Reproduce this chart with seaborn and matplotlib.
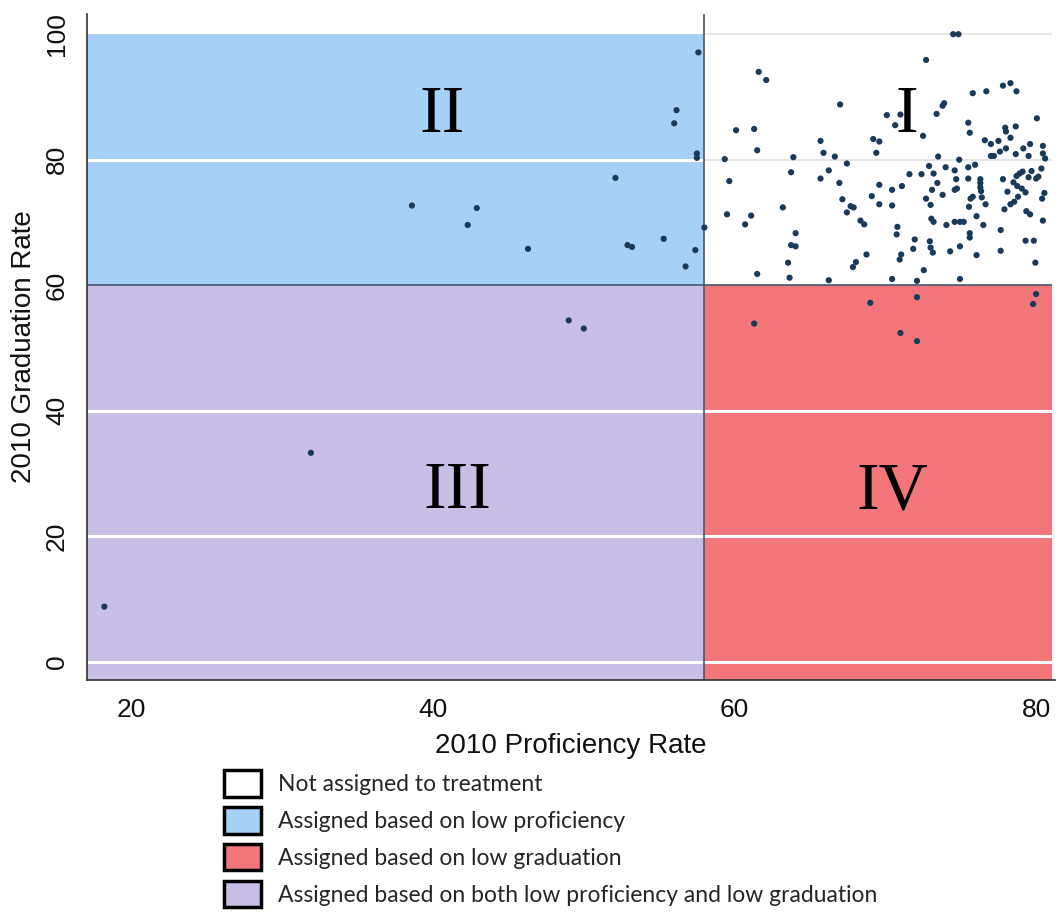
import numpy as np
import pandas as pd
import matplotlib
matplotlib.use("Agg")
import matplotlib.pyplot as plt
from matplotlib.patches import Rectangle, Patch
import seaborn as sns

# ---- data (2010 proficiency rate, 2010 graduation rate) ----
q2_prof = [57.6, 56.15, 56.0, 57.5, 57.5, 52.1, 38.6, 42.9, 42.3, 58.0, 46.3, 52.9, 53.2, 55.3, 57.4, 56.75]
q2_grad = [97.1, 87.9, 85.8, 81.0, 80.3, 77.1, 72.7, 72.3, 69.6, 69.2, 65.8, 66.4, 66.1, 67.4, 65.6, 63.0]

q3_prof = [49.0, 50.0, 31.9, 18.2]
q3_grad = [54.4, 53.1, 33.3, 8.8]

q4_prof = [80.0, 79.8, 69.0, 72.1, 61.3, 71.0, 72.1]
q4_grad = [58.6, 57.0, 57.2, 58.1, 53.9, 52.4, 51.1]

q1_prof = [61.6, 62.1, 67.0, 60.1, 61.3, 61.5, 65.7, 65.9, 66.65, 63.9, 59.35, 69.2, 69.6, 69.4,
           74.5, 74.85, 72.7, 70.1, 71.0, 70.65, 72.5, 73.4, 73.8, 73.9, 75.8, 76.7, 77.8, 78.3, 78.7,
           75.5, 75.6, 77.95, 78.0, 78.65, 80.05, 78.3, 76.6, 77.0, 77.5, 78.0, 77.6, 78.65, 79.15, 79.6,
           80.45, 80.45, 80.6, 73.5, 77.0, 77.2, 74.9, 79.5,
           71.6, 72.4, 72.9, 73.2, 74.0, 74.6, 75.5, 75.95, 73.45, 74.7, 75.5, 76.3, 76.3, 76.3, 76.35,
           73.1, 73.8, 74.6, 74.75, 72.7, 73.0, 75.65, 75.8, 75.55, 76.4, 76.65, 77.8, 78.7, 78.9, 79.1,
           79.5, 79.7, 80.0, 80.15, 80.35, 78.5, 78.75, 79.05, 78.1, 78.8, 79.3, 80.55, 80.4, 78.55, 78.3,
           77.9, 79.35, 79.6, 80.45, 70.45, 71.1, 70.45, 73.05, 73.2, 74.05, 74.6, 74.95, 75.2, 76.05,
           76.5, 77.65, 75.6, 75.6, 70.8, 70.75, 71.95, 72.95, 73.0, 71.85, 73.15, 74.3, 74.95, 76.05,
           77.65, 79.3, 79.85, 79.95, 71.05, 70.95, 72.55, 70.45, 72.1, 74.95,
           67.45, 63.75, 66.25, 65.7, 66.95, 59.65, 69.6, 69.1, 69.6, 67.15, 67.7, 67.9, 67.45, 63.2,
           59.5, 61.1, 60.7, 68.35, 68.6, 64.05, 63.75, 64.05, 68.75, 68.05, 67.85, 63.55, 61.5, 63.65, 66.25]
q1_grad = [94.0, 92.7, 88.8, 84.7, 84.9, 81.5, 83.0, 81.1, 80.5, 80.4, 80.1, 83.3, 82.9, 81.1,
           100.0, 100.0, 95.9, 87.1, 87.2, 85.5, 83.8, 87.3, 88.6, 89.0, 90.6, 90.9, 91.8, 92.2, 90.9,
           85.9, 84.3, 85.1, 84.5, 85.3, 86.6, 83.5, 83.1, 82.5, 83.0, 81.8, 81.3, 80.9, 81.8, 82.5,
           82.2, 81.0, 80.2, 80.5, 80.6, 80.6, 80.0, 80.6,
           77.7, 77.7, 79.0, 77.8, 78.8, 78.3, 78.8, 79.2, 76.3, 76.9, 77.0, 76.9, 76.3, 75.6, 75.0,
           75.2, 74.4, 75.2, 75.4, 73.8, 72.8, 73.8, 74.1, 72.5, 74.0, 72.9, 76.9, 77.4, 77.8, 78.1,
           77.2, 78.2, 77.0, 77.3, 78.6, 76.4, 75.8, 75.4, 74.9, 74.1, 74.8, 74.7, 73.8, 73.3, 72.9,
           72.1, 71.8, 71.3, 70.3, 75.2, 75.8, 72.7, 70.6, 70.1, 69.6, 70.1, 70.1, 70.1, 71.0,
           69.6, 68.8, 68.3, 67.6, 69.3, 68.1, 67.3, 67.0, 66.0, 65.8, 65.2, 65.4, 66.2, 64.8,
           65.5, 67.1, 67.1, 63.6, 64.9, 64.1, 62.4, 61.0, 60.7, 61.0,
           79.4, 78.0, 78.3, 77.0, 76.3, 76.6, 76.0, 74.2, 72.9, 73.7, 72.6, 72.4, 71.6, 72.4,
           71.3, 71.1, 69.7, 70.3, 69.7, 68.3, 66.4, 66.2, 64.9, 63.7, 62.9, 63.6, 61.8, 61.2, 60.8]

prof_cut = 58.0
grad_cut = 60.0
x_ticks = [20, 40, 60, 80]
y_ticks = [0, 20, 40, 60, 80, 100]
quadrant_labels = ["I", "II", "III", "IV"]
legend_labels = ["Not assigned to treatment",
                 "Assigned based on low proficiency",
                 "Assigned based on low graduation",
                 "Assigned based on both low proficiency and low graduation"]

df = pd.DataFrame({
    "prof": q1_prof + q2_prof + q3_prof + q4_prof,
    "grad": q1_grad + q2_grad + q3_grad + q4_grad,
})

# ---- style ----
sns.set_style("white")
plt.rcParams["font.family"] = ["Liberation Sans", "DejaVu Sans"]

c_white = "#FFFFFF"
c_blue = "#A5D0F8"
c_red = "#F3767B"
c_purple = "#C9BFE6"
c_line = "#46586E"
c_dot = "#1B3A5A"

fig = plt.figure(figsize=(10.61, 9.16), dpi=100)
ax = fig.add_axes([0.082, 0.2576, 0.9123, 0.727])

xmin, xmax = 17.05, 81.25
ymin, ymax = -2.9, 103.2
xr = 81.05

ax.set_xlim(xmin, xmax)
ax.set_ylim(ymin, ymax)

# quadrant backgrounds
ax.add_patch(Rectangle((xmin, grad_cut), prof_cut - xmin, 100 - grad_cut, facecolor=c_blue, edgecolor="none", zorder=0.5))
ax.add_patch(Rectangle((xmin, ymin), prof_cut - xmin, grad_cut - ymin, facecolor=c_purple, edgecolor="none", zorder=0.5))
ax.add_patch(Rectangle((prof_cut, ymin), xr - prof_cut, grad_cut - ymin, facecolor=c_red, edgecolor="none", zorder=0.5))

# grid lines
for yv in [0, 20, 40]:
    ax.hlines(yv, xmin, xr, colors="white", lw=2.2, zorder=0.8)
ax.hlines(80, xmin, prof_cut, colors="white", lw=2.2, zorder=0.8)
ax.hlines([80, 100], prof_cut, xr, colors="#E6E6E6", lw=1.5, zorder=0.8)

# dividers
ax.vlines(prof_cut, ymin, ymax, colors=c_line, lw=1.2, zorder=1)
ax.hlines(grad_cut, xmin, xr, colors=c_line, lw=1.2, zorder=1)

# points
sns.scatterplot(data=df, x="prof", y="grad", ax=ax, color=c_dot, s=20,
                edgecolor="none", linewidth=0, zorder=3, legend=False)

# roman numerals
serif = ["Liberation Serif", "DejaVu Serif"]
for (xx, yy), lab in zip([(71.4, 87.1), (40.6, 87.1), (41.6, 27.1), (70.5, 27.1)], quadrant_labels):
    ax.text(xx, yy, lab, fontsize=49, family=serif, color="black",
            ha="center", va="center", zorder=2)

# axes styling
for s in ["top", "right"]:
    ax.spines[s].set_visible(False)
for s in ["left", "bottom"]:
    ax.spines[s].set_color("#333333")
    ax.spines[s].set_linewidth(1.2)
ax.set_xticks(x_ticks)
ax.set_yticks(y_ticks)
ax.set_yticklabels([str(v) for v in y_ticks], rotation=90, va="center")
ax.tick_params(axis="both", direction="out", length=7, width=1, color="#333333",
               labelsize=19, labelcolor="#111111", pad=6)
ax.set_xlabel("2010 Proficiency Rate", fontsize=20, color="#111111", labelpad=8)
ax.set_ylabel("2010 Graduation Rate", fontsize=20, color="#111111", labelpad=6)
ax.grid(False)

# legend
handles = [Patch(facecolor=c, edgecolor="black", linewidth=2.5) for c in [c_white, c_blue, c_red, c_purple]]
leg = fig.legend(handles, legend_labels, loc="upper left", bbox_to_anchor=(0.211, 0.159),
                 frameon=False, prop={"family": ["Lato", "DejaVu Sans"], "size": 16.5},
                 handlelength=1.62, handleheight=1.4, labelspacing=0.45, handletextpad=0.75,
                 borderpad=0, borderaxespad=0)

fig.savefig("out.png", dpi=100)
